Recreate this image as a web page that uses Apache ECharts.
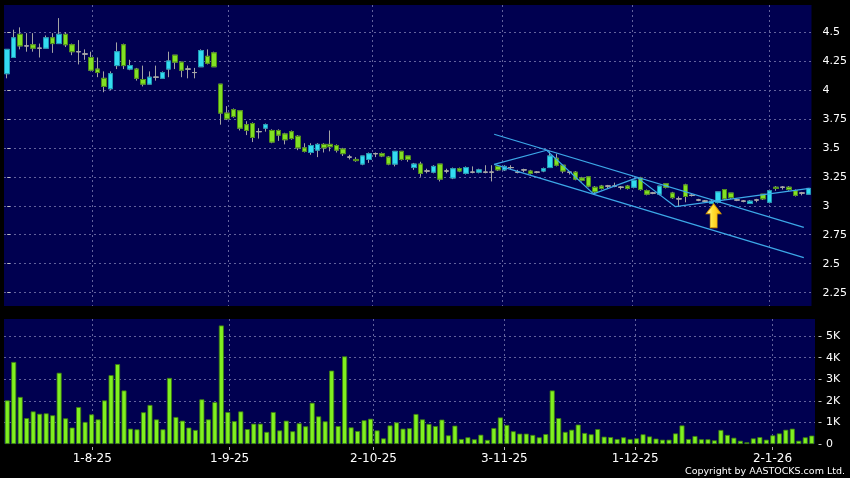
<!DOCTYPE html>
<html>
<head>
<meta charset="utf-8">
<script src="https://cdn.jsdelivr.net/npm/echarts@6/dist/echarts.min.js"></script>
<style>
html,body{margin:0;padding:0;background:#000;}
#chart{width:850px;height:478px;}
</style>
</head>
<body>
<div id="chart"></div>
<script>
// ---- data ----
const dates = [
'15-7-25','16-7-25','17-7-25','18-7-25','21-7-25','22-7-25','23-7-25','24-7-25','25-7-25','28-7-25','29-7-25','30-7-25','31-7-25',
'1-8-25','4-8-25','5-8-25','6-8-25','7-8-25','8-8-25','11-8-25','12-8-25','13-8-25','14-8-25','15-8-25','18-8-25','19-8-25','20-8-25','21-8-25','22-8-25','25-8-25','26-8-25','27-8-25','28-8-25','29-8-25',
'1-9-25','2-9-25','3-9-25','4-9-25','5-9-25','8-9-25','9-9-25','10-9-25','11-9-25','12-9-25','15-9-25','16-9-25','17-9-25','18-9-25','19-9-25','22-9-25','23-9-25','24-9-25','25-9-25','26-9-25','29-9-25','30-9-25',
'2-10-25','3-10-25','6-10-25','8-10-25','9-10-25','10-10-25','13-10-25','14-10-25','15-10-25','16-10-25','17-10-25','20-10-25','21-10-25','22-10-25','23-10-25','24-10-25','27-10-25','28-10-25','30-10-25','31-10-25',
'3-11-25','4-11-25','5-11-25','6-11-25','7-11-25','10-11-25','11-11-25','12-11-25','13-11-25','14-11-25','17-11-25','18-11-25','19-11-25','20-11-25','21-11-25','24-11-25','25-11-25','26-11-25','27-11-25','28-11-25',
'1-12-25','2-12-25','3-12-25','4-12-25','5-12-25','8-12-25','9-12-25','10-12-25','11-12-25','12-12-25','15-12-25','16-12-25','17-12-25','18-12-25','19-12-25','22-12-25','23-12-25','24-12-25','29-12-25','30-12-25','31-12-25',
'2-1-26','5-1-26','6-1-26','7-1-26','8-1-26','9-1-26','12-1-26','13-1-26'
];
const opens = [
4.14,4.28,4.48,4.38,4.39,4.36,4.36,4.45,4.40,4.48,4.39,4.33,4.31,
4.28,4.18,4.10,4.01,4.21,4.39,4.18,4.18,4.09,4.05,4.11,4.10,4.18,4.30,4.24,4.18,4.15,4.20,4.29,4.32,4.05,
3.80,3.83,3.82,3.70,3.71,3.64,3.67,3.65,3.65,3.62,3.64,3.60,3.50,3.46,3.48,3.53,3.53,3.52,3.49,3.42,3.40,3.36,
3.40,3.45,3.45,3.42,3.36,3.47,3.43,3.33,3.36,3.30,3.29,3.36,3.30,3.24,3.32,3.28,3.29,3.29,3.29,3.29,
3.34,3.31,3.33,3.29,3.31,3.30,3.29,3.30,3.33,3.41,3.35,3.29,3.29,3.24,3.25,3.16,3.17,3.17,3.17,3.16,
3.17,3.16,3.24,3.13,3.11,3.10,3.19,3.11,3.06,3.18,3.09,3.05,3.04,3.02,3.03,3.14,3.11,3.05,3.04,3.02,3.05,
3.10,3.03,3.16,3.16,3.16,3.13,3.11,3.10
];
const closes = [
4.35,4.45,4.38,4.38,4.36,4.36,4.45,4.40,4.48,4.39,4.33,4.33,4.31,
4.17,4.15,4.03,4.14,4.33,4.21,4.21,4.10,4.05,4.11,4.11,4.15,4.25,4.24,4.17,4.18,4.15,4.34,4.23,4.20,3.80,
3.75,3.77,3.67,3.65,3.59,3.64,3.70,3.55,3.61,3.57,3.58,3.50,3.47,3.52,3.53,3.50,3.51,3.48,3.45,3.42,3.39,3.43,
3.45,3.45,3.43,3.36,3.47,3.40,3.40,3.36,3.28,3.30,3.34,3.23,3.30,3.32,3.30,3.33,3.29,3.31,3.29,3.29,
3.31,3.34,3.33,3.29,3.31,3.28,3.29,3.32,3.43,3.35,3.30,3.29,3.23,3.22,3.17,3.12,3.15,3.17,3.17,3.16,
3.15,3.22,3.14,3.10,3.11,3.17,3.16,3.07,3.06,3.08,3.09,3.05,3.04,3.04,3.12,3.06,3.07,3.05,3.04,3.04,3.05,
3.06,3.13,3.15,3.16,3.14,3.09,3.11,3.15
];
const lows = [
4.10,4.28,4.35,4.33,4.33,4.28,4.36,4.32,4.40,4.37,4.30,4.22,4.26,
4.16,4.11,3.98,4.00,4.18,4.18,4.17,4.08,4.03,4.05,4.08,4.10,4.11,4.18,4.11,4.10,4.10,4.20,4.22,4.20,3.70,
3.74,3.76,3.65,3.61,3.55,3.58,3.64,3.54,3.56,3.53,3.57,3.48,3.46,3.44,3.42,3.46,3.47,3.46,3.43,3.40,3.38,3.35,
3.37,3.42,3.42,3.35,3.34,3.39,3.38,3.31,3.25,3.28,3.28,3.21,3.28,3.23,3.29,3.27,3.28,3.28,3.28,3.21,
3.30,3.30,3.31,3.28,3.29,3.27,3.28,3.29,3.33,3.34,3.28,3.27,3.22,3.21,3.16,3.10,3.14,3.15,3.16,3.14,
3.14,3.15,3.13,3.09,3.10,3.09,3.15,3.06,2.99,3.03,3.08,3.04,3.03,3.02,3.02,3.05,3.06,3.04,3.03,3.02,3.03,
3.05,3.02,3.13,3.14,3.13,3.08,3.09,3.10
];
const highs = [
4.35,4.52,4.54,4.49,4.49,4.40,4.47,4.49,4.62,4.50,4.40,4.43,4.35,
4.33,4.28,4.16,4.16,4.41,4.40,4.26,4.19,4.21,4.16,4.21,4.16,4.33,4.30,4.24,4.21,4.19,4.35,4.35,4.33,4.05,
3.86,3.84,3.82,3.73,3.72,3.67,3.71,3.66,3.66,3.63,3.65,3.61,3.54,3.54,3.54,3.54,3.65,3.53,3.50,3.44,3.42,3.43,
3.46,3.46,3.46,3.43,3.47,3.47,3.43,3.37,3.38,3.32,3.35,3.36,3.32,3.33,3.33,3.34,3.34,3.32,3.35,3.35,
3.35,3.35,3.35,3.31,3.32,3.31,3.30,3.33,3.47,3.45,3.35,3.30,3.30,3.25,3.25,3.17,3.18,3.18,3.20,3.17,
3.18,3.22,3.25,3.14,3.12,3.17,3.19,3.12,3.08,3.19,3.10,3.06,3.05,3.05,3.12,3.14,3.11,3.06,3.05,3.05,3.06,
3.10,3.14,3.17,3.17,3.17,3.14,3.12,3.15
];
const volumes = [
2020,3800,2180,1200,1510,1400,1420,1330,3300,1190,760,1710,1020,
1370,1140,2020,3190,3700,2480,710,680,1470,1810,1140,680,3060,1250,1080,760,650,2070,1140,1940,5490,
1480,1060,1510,690,940,940,560,1480,630,1080,590,960,820,1910,1280,1050,3400,830,4060,770,600,1100,
1170,630,260,860,1000,710,730,1390,1140,930,830,1130,400,850,230,310,220,430,190,740,
1230,880,590,480,480,420,310,460,2480,1200,560,660,900,510,450,690,340,320,230,310,
230,260,450,350,250,200,200,490,860,230,370,220,220,170,650,420,290,150,80,260,320,
200,400,490,660,710,150,310,390
];
const priceTicks = [2.25, 2.5, 2.75, 3, 3.25, 3.5, 3.75, 4, 4.25, 4.5];
const volumeTicks = [0, 1000, 2000, 3000, 4000, 5000];
// drawn trend lines: [bar position, price]
const upperChannel = [[75.38, 3.617], [123.31, 2.814]];
const lowerChannel = [[75.38, 3.358], [123.31, 2.552]];
const zigzagLine = [[75.38, 3.358], [83.5, 3.479], [90.75, 3.103], [97.53, 3.243], [103.44, 2.992], [124.19, 3.151]];
const arrowMark = [[109.35, 2.914]];

// ---- styles ----
const NAVY = '#000050';
const GRID = '#62629c';
const UP = '#34dcf0', UP_B = '#1c98b4';
const DOWN = '#82e024', DOWN_B = '#4c8c14';
const DOJI = '#a8a8a8';
const WICK = '#a4a4a4';
const TREND = '#3ca8e8';
const FONT = 'DejaVu Sans';

const labelDates = dates.slice(0, dates.length - 1);
const monthOf = s => s.split('-')[1];
const isMonthStart = (i) => i > 0 && monthOf(labelDates[i]) !== monthOf(labelDates[i - 1]);

const wickData = opens.map((o, i) => [o, closes[i], lows[i], highs[i]]);
const bodyData = opens.map((o, i) => {
  const c = closes[i];
  const item = { value: [o, c, Math.min(o, c), Math.max(o, c)] };
  if (o === c) item.itemStyle = { color: DOJI, color0: DOJI, borderColor: DOJI, borderColor0: DOJI, borderColorDoji: DOJI };
  return item;
});

const gridLine = { show: true, lineStyle: { color: GRID, type: [2, 3], width: 1 } };

const chart = echarts.init(document.getElementById('chart'), null, { renderer: 'canvas' });
chart.setOption({
  animation: false,
  backgroundColor: '#000000',
  grid: [
    { left: 4, top: 5, width: 811, height: 301, show: true, backgroundColor: NAVY, borderWidth: 0 },
    { left: 4, top: 319, width: 811, height: 125, show: true, backgroundColor: NAVY, borderWidth: 0 }
  ],
  xAxis: [
    { gridIndex: 0, type: 'category', data: dates, show: false, position: 'bottom' },
    { gridIndex: 0, type: 'category', data: labelDates, position: 'top',
      axisLine: { show: false }, axisTick: { show: false }, axisLabel: { show: false },
      splitLine: Object.assign({ interval: isMonthStart, alignWithLabel: true }, gridLine) },
    { gridIndex: 0, type: 'value', min: -0.5, max: 124.5, show: false, position: 'bottom' },
    { gridIndex: 1, type: 'category', data: dates, show: false, position: 'top' },
    { gridIndex: 1, type: 'category', data: labelDates, position: 'bottom', offset: 3,
      axisLine: { show: false },
      axisTick: { show: true, interval: isMonthStart, alignWithLabel: true, length: 3, lineStyle: { color: '#b0b0b0' } },
      axisLabel: { interval: isMonthStart, color: '#ffffff', fontSize: 12, fontFamily: FONT, margin: 6 },
      splitLine: Object.assign({ interval: isMonthStart, alignWithLabel: true }, gridLine) }
  ],
  yAxis: [
    { gridIndex: 0, type: 'value', position: 'right', offset: 3.5, min: 2.135, max: 4.733,
      axisLine: { show: false },
      axisTick: { show: true, length: 3, customValues: priceTicks, lineStyle: { color: '#c0c0c0' } },
      axisLabel: { customValues: priceTicks, color: '#ffffff', fontSize: 11, fontFamily: FONT, margin: 7.5 },
      splitLine: gridLine },
    { gridIndex: 1, type: 'value', position: 'right', offset: 3.5, min: 0, max: 5790,
      axisLine: { show: false },
      axisTick: { show: true, length: 3, customValues: volumeTicks, lineStyle: { color: '#c0c0c0' } },
      axisLabel: { customValues: volumeTicks, color: '#ffffff', fontSize: 11, fontFamily: FONT, margin: 7.5,
        formatter: v => v === 0 ? '0' : (v / 1000) + 'K' },
      splitLine: Object.assign({ showMinLine: false }, gridLine) }
  ],
  series: [
    { name: 'wick', type: 'candlestick', xAxisIndex: 0, yAxisIndex: 0, data: wickData, barWidth: 5, silent: true,
      itemStyle: { color: 'rgba(0,0,0,0)', color0: 'rgba(0,0,0,0)', borderColor: WICK, borderColor0: WICK, borderColorDoji: WICK, borderWidth: 1 } },
    { name: 'body', type: 'candlestick', xAxisIndex: 0, yAxisIndex: 0, data: bodyData, barWidth: 5, silent: true,
      itemStyle: { color: UP, color0: DOWN, borderColor: UP_B, borderColor0: DOWN_B, borderColorDoji: DOJI, borderWidth: 1 } },
    { name: 'upper', type: 'line', xAxisIndex: 2, yAxisIndex: 0, data: upperChannel, showSymbol: false, silent: true,
      lineStyle: { color: TREND, width: 1.2 } },
    { name: 'lower', type: 'line', xAxisIndex: 2, yAxisIndex: 0, data: lowerChannel, showSymbol: false, silent: true,
      lineStyle: { color: TREND, width: 1.2 } },
    { name: 'zigzag', type: 'line', xAxisIndex: 2, yAxisIndex: 0, data: zigzagLine, showSymbol: false, silent: true,
      lineStyle: { color: TREND, width: 1.2 } },
    { name: 'arrow', type: 'scatter', xAxisIndex: 2, yAxisIndex: 0, data: arrowMark, silent: true,
      symbol: 'path://M7.5,0 L15,10 L11,10 L11,24 L4,24 L4,10 L0,10 Z', symbolSize: [15, 24],
      itemStyle: { color: new echarts.graphic.LinearGradient(0, 0, 1, 0, [
        { offset: 0, color: '#fffde0' }, { offset: 0.4, color: '#ffe43a' }, { offset: 1, color: '#ffb400' }]),
        borderColor: '#d89a00', borderWidth: 0.8, opacity: 1 } },
    { name: 'volume', type: 'bar', xAxisIndex: 3, yAxisIndex: 1, data: volumes, barWidth: 5, silent: true,
      itemStyle: { color: '#80f020', borderColor: '#3c7c10', borderWidth: 0.8 } }
  ],
  graphic: [
    { type: 'text', right: 5, bottom: 1, silent: true,
      style: { text: 'Copyright by AASTOCKS.com Ltd.', fill: '#ffffff', font: '9.5px "DejaVu Sans"' } }
  ]
});
</script>
</body>
</html>
